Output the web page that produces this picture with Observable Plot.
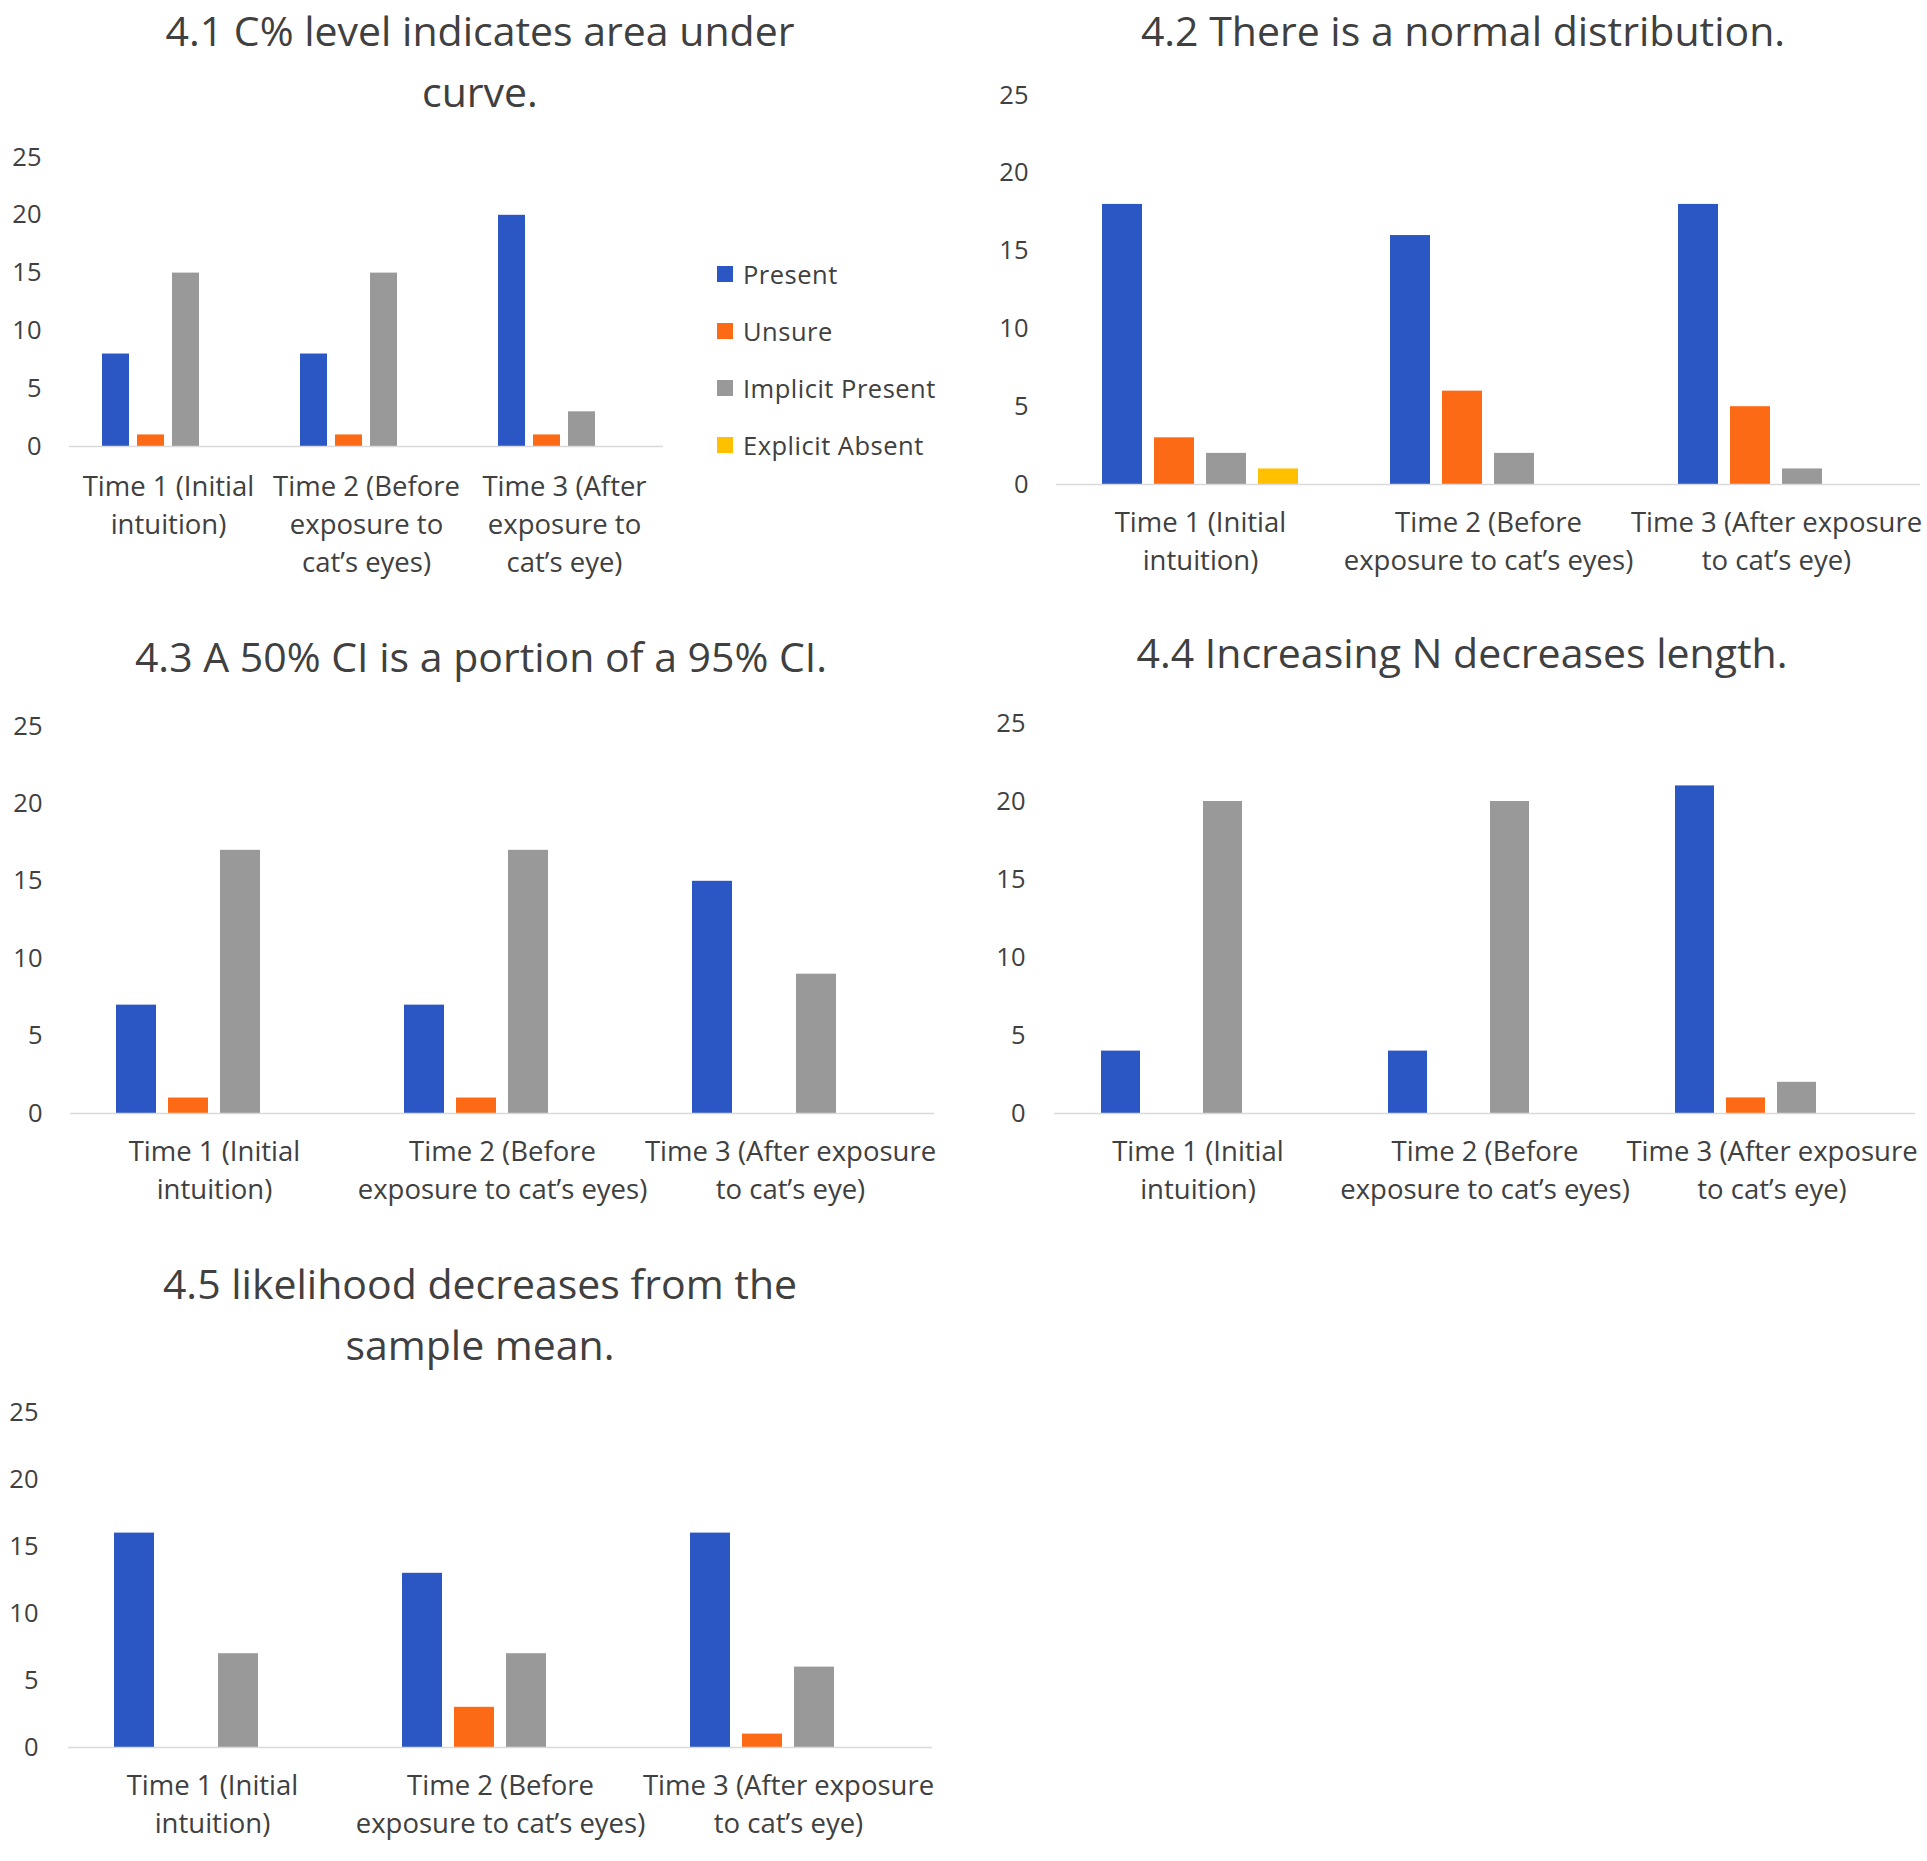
<!DOCTYPE html>
<html>
<head>
<meta charset="utf-8">
<script src="https://cdn.jsdelivr.net/npm/d3@7"></script>
<script src="https://cdn.jsdelivr.net/npm/@observablehq/plot@0.6"></script>
<style>
  html, body { margin: 0; padding: 0; background: #ffffff; }
  #page { position: relative; width: 1927px; height: 1861px; background: #ffffff; overflow: hidden;
          font-family: "Open Sans", sans-serif; color: #404040; }
  .title { position: absolute; width: 880px; height: 58px; text-align: center; font-size: 41px; line-height: 58px;
           color: #404040; white-space: nowrap; }
  .chart { position: absolute; }
  .legend-item { position: absolute; height: 30px; display: flex; align-items: center;
                 font-size: 25.5px; letter-spacing: 0.5px; color: #404040; transform: translateY(-50%); white-space: nowrap; }
  .legend-item span.sw { display: inline-block; width: 16px; height: 16px; margin-right: 10px; }
</style>
</head>
<body>
<div id="page"></div>
<script>
// ---- data ----
const series = ["Present", "Unsure", "Implicit Present", "Explicit Absent"];
const seriesColors = ["#2b57c4", "#fd6a16", "#999999", "#ffc000"];
const times = ["Time 1", "Time 2", "Time 3"];
const labels41 = ["Time 1 (Initial\nintuition)", "Time 2 (Before\nexposure to\ncat’s eyes)", "Time 3 (After\nexposure to\ncat’s eye)"];
const labelsWide = ["Time 1 (Initial\nintuition)", "Time 2 (Before\nexposure to cat’s eyes)", "Time 3 (After exposure\nto cat’s eye)"];
const yTicks = [0, 5, 10, 15, 20, 25];

const title41 = ["4.1 C% level indicates area under", "curve."];
const title42 = ["4.2 There is a normal distribution."];
const title43 = ["4.3 A 50% CI is a portion of a 95% CI."];
const title44 = ["4.4 Increasing N decreases length."];
const title45 = ["4.5 likelihood decreases from the", "sample mean."];

// rows: Time 1, Time 2, Time 3 ; columns: Present, Unsure, Implicit Present, Explicit Absent
const values41 = [[8, 1, 15, 0], [8, 1, 15, 0], [20, 1, 3, 0]];
const values42 = [[18, 3, 2, 1], [16, 6, 2, 0], [18, 5, 1, 0]];
const values43 = [[7, 1, 17, 0], [7, 1, 17, 0], [15, 0, 9, 0]];
const values44 = [[4, 0, 20, 0], [4, 0, 20, 0], [21, 1, 2, 0]];
const values45 = [[16, 0, 7, 0], [13, 3, 7, 0], [16, 1, 6, 0]];

// ---- drawing ----
const page = document.getElementById("page");

function addTitle(lines, cx, cyFirst) {
  lines.forEach((line, i) => {
    const d = document.createElement("div");
    d.className = "title";
    d.style.left = (cx - 440) + "px";
    d.style.top = (cyFirst + i * 61 - 29) + "px";
    d.textContent = line;
    page.appendChild(d);
  });
}

function makeChart(values, tickLabels, cfg) {
  const data = [];
  times.forEach((t, i) => series.forEach((s, j) => {
    if (values[i][j] > 0) data.push({time: t, series: s, value: values[i][j]});
  }));
  const svg = Plot.plot({
    width: cfg.width,
    height: cfg.height,
    marginLeft: cfg.ml,
    marginRight: cfg.mr,
    marginTop: cfg.mt,
    marginBottom: cfg.mb,
    style: {fontFamily: '"Open Sans", sans-serif', fontSize: "25px", color: "#404040", background: "transparent", overflow: "visible"},
    fx: {domain: times, padding: 0},
    x: {domain: series, paddingInner: 0.23, paddingOuter: 0.88, axis: null},
    y: {domain: [0, 25]},
    color: {domain: series, range: seriesColors},
    marks: [
      Plot.axisY({ticks: yTicks, tickSize: 0, tickPadding: cfg.tp, fontSize: 25.5, label: null}),
      Plot.axisFx({anchor: "bottom", tickSize: 0, tickPadding: cfg.fp, fontSize: 27.5, lineHeight: 1.38,
                   label: null, tickFormat: d => tickLabels[times.indexOf(d)]}),
      Plot.barY(data, {fx: "time", x: "series", y: "value", fill: "series"}),
      Plot.ruleY([0], {stroke: "#d9d9d9", strokeWidth: 1.5})
    ]
  });
  const wrap = document.createElement("div");
  wrap.className = "chart";
  wrap.style.left = cfg.left + "px";
  wrap.style.top = cfg.top + "px";
  wrap.appendChild(svg);
  page.appendChild(wrap);
}

// 4.1
addTitle(title41, 480, 30);
makeChart(values41, labels41, {left: 0, top: 100, width: 680, height: 486, ml: 68, mr: 16, mt: 57, mb: 140, tp: 28, fp: 23});
// legend for 4.1
const legendY = [274, 331, 388, 445];
series.forEach((s, i) => {
  const d = document.createElement("div");
  d.className = "legend-item";
  d.style.left = "717px";
  d.style.top = legendY[i] + "px";
  d.innerHTML = `<span class="sw" style="background:${seriesColors[i]}"></span>${s}`;
  page.appendChild(d);
});

// 4.2
addTitle(title42, 1463, 30);
makeChart(values42, labelsWide, {left: 980, top: 60, width: 947, height: 524, ml: 75, mr: 7, mt: 35, mb: 100, tp: 28, fp: 21});

// 4.3
addTitle(title43, 481, 656);
makeChart(values43, labelsWide, {left: 0, top: 680, width: 950, height: 533, ml: 69, mr: 15, mt: 46, mb: 100, tp: 28, fp: 21});

// 4.4
addTitle(title44, 1462, 652);
makeChart(values44, labelsWide, {left: 980, top: 680, width: 947, height: 533, ml: 73, mr: 12, mt: 43, mb: 100, tp: 29, fp: 21});

// 4.5
addTitle(title45, 480, 1283);
makeChart(values45, labelsWide, {left: 0, top: 1380, width: 950, height: 477, ml: 68, mr: 18, mt: 32, mb: 110, tp: 30, fp: 21});
</script>
</body>
</html>
